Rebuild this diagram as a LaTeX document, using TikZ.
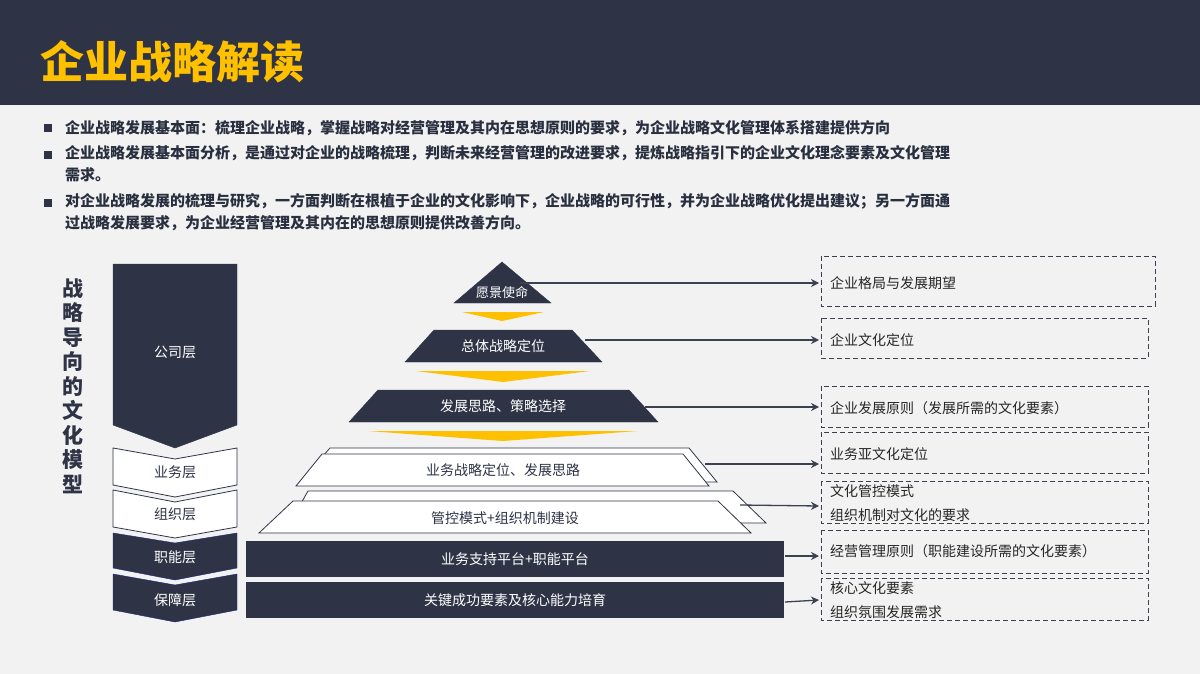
\documentclass[tikz,border=0pt]{standalone}
\usepackage{fontspec}
\setmainfont{Noto Sans CJK SC}
\newfontfamily\cjkb{Noto Sans CJK SC}[BoldFont={Noto Sans CJK SC Bold}]
\usetikzlibrary{arrows.meta}
\definecolor{navy}{HTML}{2E3446}
\definecolor{bgg}{HTML}{F2F2F2}
\definecolor{gold}{HTML}{FFC000}
\definecolor{linec}{HTML}{3C4150}
\tikzset{
 darkshape/.style={fill=navy,draw=navy},
 whiteshape/.style={fill=white,draw=navy,line width=0.8pt},
 goldarrow/.style={fill=gold,draw=none},
 lbl/.style={font=\fontsize{14}{16}\selectfont,inner sep=0pt},
 conn/.style={draw=linec,line width=1.3pt,-{Stealth[length=8pt,width=8pt]}},
 dbox/.style={draw=linec,dashed,line width=0.9pt,dash pattern=on 5pt off 3pt},
 bul/.style={anchor=west,font=\fontsize{15}{22}\selectfont\bfseries,text=navy!90!black,align=left,inner sep=0pt}
}
\begin{document}
\begin{tikzpicture}[x=1pt,y=-1pt]
\useasboundingbox (0,0) rectangle (1200,674);
\fill[bgg] (0,0) rectangle (1200,674);
\fill[navy] (0,0) rectangle (1200,105);
\node[anchor=west,text=gold,font=\fontsize{44}{48}\selectfont\bfseries,inner sep=0pt] (title) at (40,62) {企业战略解读};
% bullets
\foreach \y in {128,155,203} \fill[navy] (44,\y-4) rectangle (52,\y+4);
\node[bul] (b1) at (65,128) {企业战略发展基本面：梳理企业战略，掌握战略对经营管理及其内在思想原则的要求，为企业战略文化管理体系搭建提供方向};
\node[bul,anchor=north west] (b2) at (65,145) {企业战略发展基本面分析，是通过对企业的战略梳理，判断未来经营管理的改进要求，提炼战略指引下的企业文化理念要素及文化管理\\需求。};
\node[bul,anchor=north west] (b3) at (65,193) {对企业战略发展的梳理与研究，一方面判断在根植于企业的文化影响下，企业战略的可行性，并为企业战略优化提出建议；另一方面通\\过战略发展要求，为企业经营管理及其内在的思想原则提供改善方向。};
% vertical title
\node[font=\fontsize{21}{24.5}\selectfont\bfseries,text=navy,align=center,inner sep=0pt] (vt) at (73,386) {战\\略\\导\\向\\的\\文\\化\\模\\型};
% left chevrons
\path[darkshape] (113,264) -- (237,264) -- (237,425) -- (175,448) -- (113,425) -- cycle;
\node[lbl,text=white] (c1) at (175,352) {公司层};
\path[whiteshape] (113,448) -- (175,459) -- (237,448) -- (237,485) -- (175,497) -- (113,485) -- cycle;
\node[lbl,text=navy] (c2) at (175,472) {业务层};
\path[whiteshape] (113,490) -- (175,502) -- (237,490) -- (237,527) -- (175,538) -- (113,527) -- cycle;
\node[lbl,text=navy] (c3) at (175,514) {组织层};
\path[darkshape,draw=blue!30!navy] (113,533) -- (175,543) -- (237,533) -- (237,568) -- (175,580) -- (113,568) -- cycle;
\node[lbl,text=white] (c4) at (175,557) {职能层};
\path[darkshape,draw=blue!30!navy] (113,574) -- (175,585) -- (237,574) -- (237,610) -- (175,622) -- (113,610) -- cycle;
\node[lbl,text=white] (c5) at (175,600) {保障层};
% pyramid
\path[darkshape] (502,262) -- (551,303) -- (454,303) -- cycle;
\node[lbl,text=white,font=\fontsize{13}{15}\selectfont] (p1) at (502,293) {愿景使命};
\path[goldarrow] (462,312) -- (544,312) -- (502,321) -- cycle;
\path[darkshape] (434,330) -- (572,330) -- (602,362) -- (405,362) -- cycle;
\node[lbl,text=white] (p2) at (503,346) {总体战略定位};
\path[goldarrow] (416,371) -- (590,371) -- (503,382) -- cycle;
\path[darkshape] (378,390) -- (629,390) -- (658,422) -- (349,422) -- cycle;
\node[lbl,text=white] (p3) at (503,406) {发展思路、策略选择};
\path[goldarrow] (368,431) -- (638,431) -- (503,441) -- cycle;
\path[whiteshape] (330,448) -- (689,448) -- (717,482) -- (300,482) -- cycle;
\path[whiteshape] (322,454) -- (683,454) -- (709,486) -- (296,486) -- cycle;
\node[lbl,text=navy] (p4) at (503,470) {业务战略定位、发展思路};
\path[whiteshape] (308,491) -- (733,491) -- (766,523) -- (290,523) -- cycle;
\path[whiteshape] (293,501) -- (718,501) -- (751,533) -- (259,533) -- cycle;
\node[lbl,text=navy] (p5) at (505,518) {管控模式+组织机制建设};
\path[darkshape] (246,541) rectangle (783,576);
\node[lbl,text=white] (p6) at (515,559) {业务支持平台+职能平台};
\path[darkshape] (246,582) rectangle (783,617);
\node[lbl,text=white] (p7) at (515,600) {关键成功要素及核心能力培育};
% right boxes
\draw[dbox] (821,256) rectangle (1155,306);
\draw[dbox] (821,318) rectangle (1148,358);
\draw[dbox] (821,386) rectangle (1148,427);
\draw[dbox] (821,432) rectangle (1148,473);
\draw[dbox] (821,481) rectangle (1148,523);
\draw[dbox] (821,530) rectangle (1148,573);
\draw[dbox] (821,578) rectangle (1148,620);
\tikzset{rt/.style={lbl,anchor=west,text=black!85}}
\node[rt] (r1) at (830,283) {企业格局与发展期望};
\node[rt] (r2) at (830,340) {企业文化定位};
\node[rt] (r3) at (830,408) {企业发展原则（发展所需的文化要素）};
\node[rt] (r4) at (830,454) {业务亚文化定位};
\node[rt] (r5a) at (830,491) {文化管控模式};
\node[rt] (r5b) at (830,515) {组织机制对文化的要求};
\node[rt] (r6) at (830,551) {经营管理原则（职能建设所需的文化要素）};
\node[rt] (r7a) at (830,588) {核心文化要素};
\node[rt] (r7b) at (830,612) {组织氛围发展需求};
% connectors
\coordinate (s1) at (520,283); \coordinate (e1) at (819,283);
\coordinate (s2) at (585,340); \coordinate (e2) at (819,340);
\coordinate (s3) at (645,407); \coordinate (e3) at (819,407);
\coordinate (s4) at (705,464); \coordinate (e4) at (819,464);
\coordinate (s5) at (740,505); \coordinate (e5) at (819,506);
\coordinate (s6) at (785,556); \coordinate (e6) at (819,556);
\coordinate (s7) at (785,602); \coordinate (e7) at (819,600);
\foreach \i in {1,...,7} \draw[conn] (s\i) -- (e\i);
\end{tikzpicture}
\end{document}
